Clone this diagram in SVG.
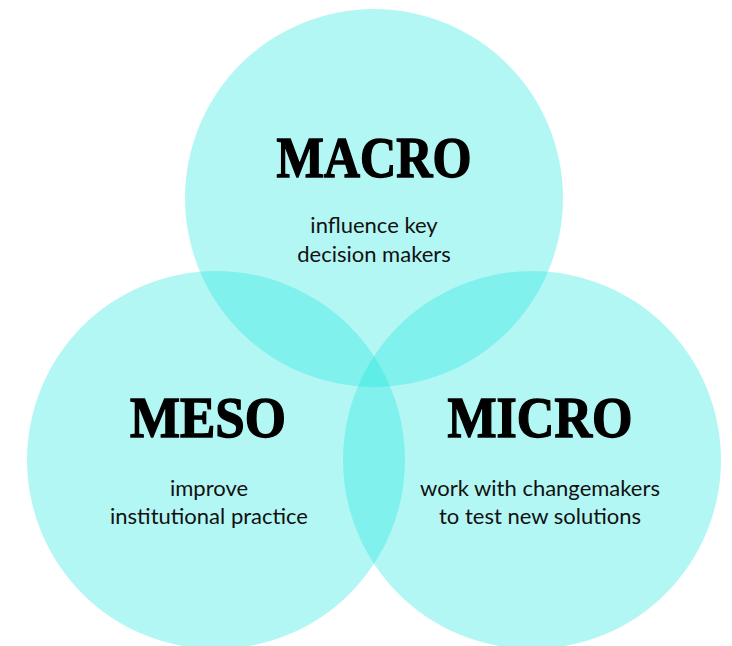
<svg xmlns="http://www.w3.org/2000/svg" width="732" height="646" viewBox="0 0 732 646">
<style>
.c{fill:rgb(24,231,222);fill-opacity:0.33}
.t{font-family:"Liberation Serif","Times New Roman",serif;font-weight:bold;font-size:57px;fill:#000;stroke:#000;stroke-width:1.4;text-anchor:middle}
.s{font-family:Lato,"Open Sans",sans-serif;font-size:22px;fill:#111;text-anchor:middle}
</style>
<rect width="732" height="646" fill="#fff"/>
<g id="macro">
<circle class="c" cx="374" cy="198" r="189"/>
<text class="t" x="374" y="177" textLength="195" lengthAdjust="spacingAndGlyphs">MACRO</text>
<text class="s" x="374" y="233">influence key</text>
<text class="s" x="374" y="262">decision makers</text>
</g>
<g id="meso">
<circle class="c" cx="216" cy="460" r="189"/>
<text class="t" x="208" y="437" textLength="156" lengthAdjust="spacingAndGlyphs">MESO</text>
<text class="s" x="209" y="496">improve</text>
<text class="s" x="209" y="524">institutional practice</text>
</g>
<g id="micro">
<circle class="c" cx="532" cy="460" r="189"/>
<text class="t" x="540" y="437" textLength="185" lengthAdjust="spacingAndGlyphs">MICRO</text>
<text class="s" x="540" y="496">work with changemakers</text>
<text class="s" x="540" y="524">to test new solutions</text>
</g>
<g id="connectors"/>
</svg>
